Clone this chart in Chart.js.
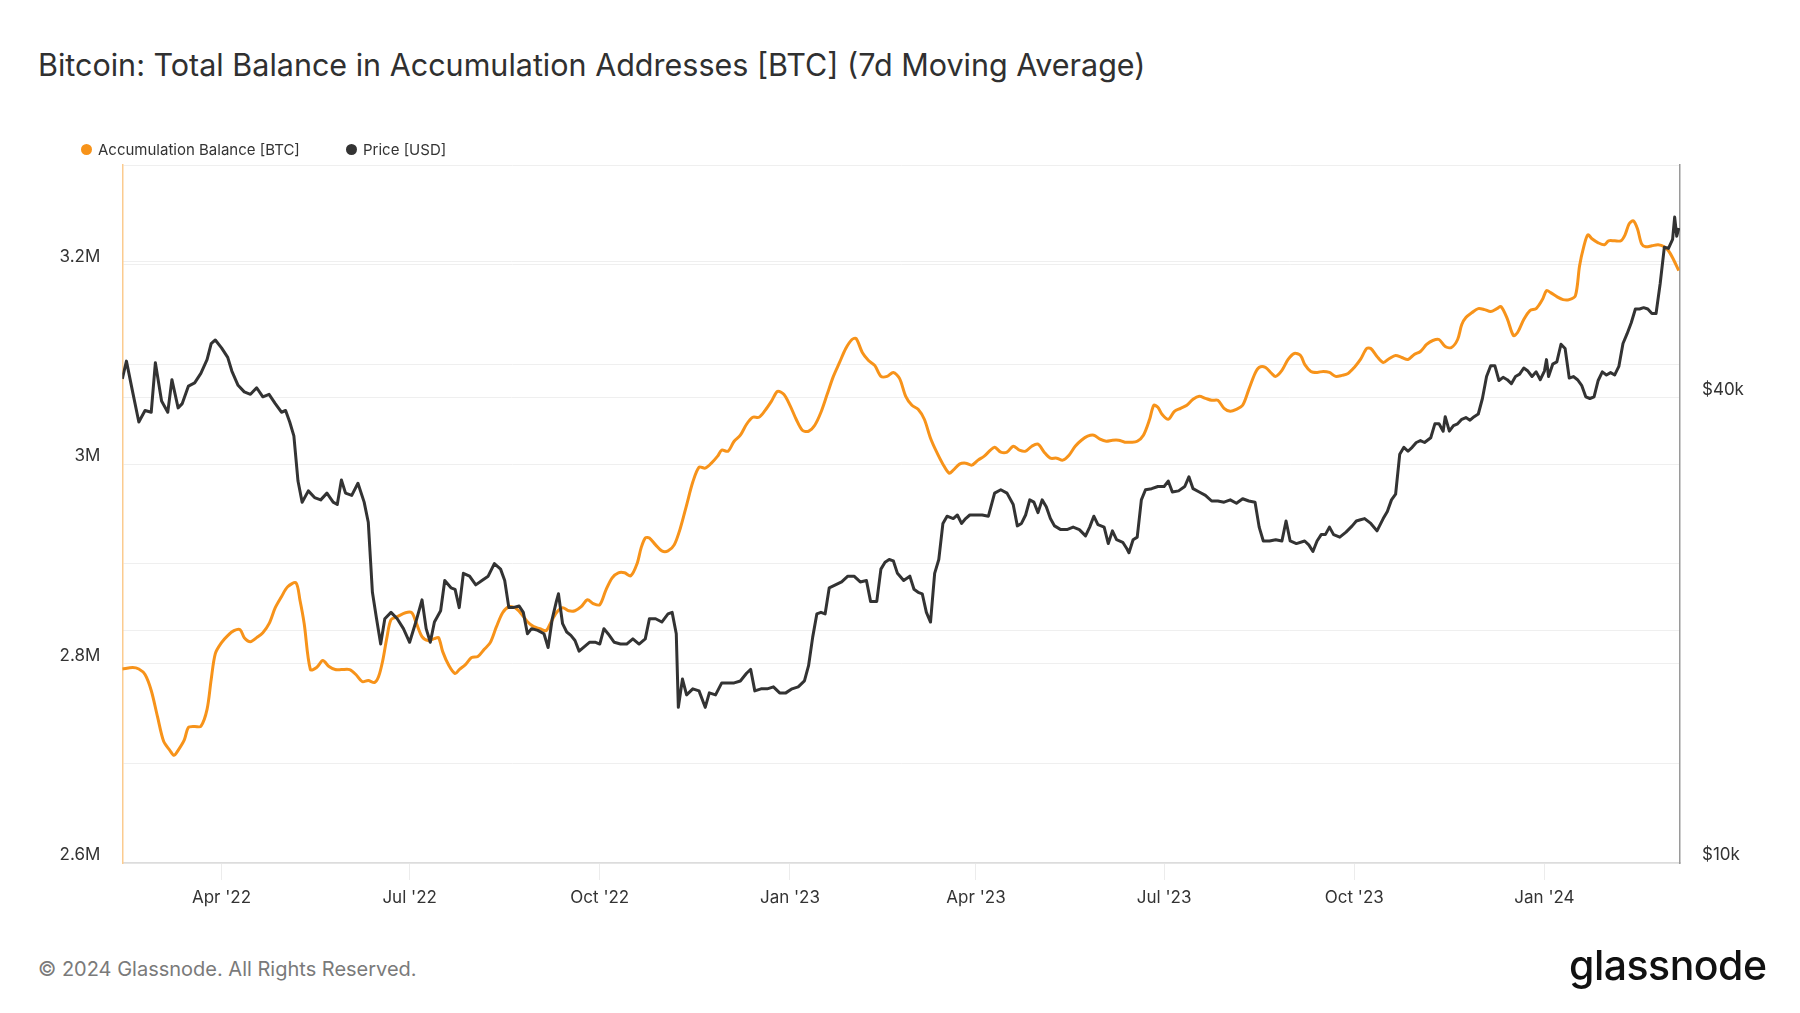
<!DOCTYPE html>
<html>
<head>
<meta charset="utf-8">
<title>Bitcoin: Total Balance in Accumulation Addresses</title>
<script src="https://cdn.jsdelivr.net/npm/chart.js@4.4.1/dist/chart.umd.min.js"></script>
<style>
  html, body { margin: 0; padding: 0; background: #fff; }
  body { width: 1800px; height: 1013px; position: relative; overflow: hidden; font-family: Inter, "Noto Sans", sans-serif; color: #333; }
  #title { position: absolute; left: 38px; top: 46px; font-size: 30.5px; line-height: 38px; font-weight: 400; color: #303030; white-space: nowrap; }
  .dot { position: absolute; width: 11px; height: 11px; border-radius: 50%; top: 144px; z-index: 2; }
  .leg { position: absolute; top: 140px; font-size: 15px; line-height: 20px; color: #333; white-space: nowrap; z-index: 2; }
  #chartBox { position: absolute; left: 0; top: 150px; width: 1800px; height: 798px; }
  #footer { position: absolute; left: 38px; top: 957px; font-size: 20px; line-height: 24px; color: #7a7a7a; white-space: nowrap; }
  #logo { position: absolute; left: 1569px; top: 941px; font-size: 41px; line-height: 48px; font-weight: 500; letter-spacing: -0.5px; color: #111; white-space: nowrap; }
</style>
</head>
<body>
<div id="title">Bitcoin: Total Balance in Accumulation Addresses [BTC] (7d Moving Average)</div>
<span class="dot" style="left:81px;background:#f7931a"></span>
<span class="leg" style="left:98px">Accumulation Balance [BTC]</span>
<span class="dot" style="left:346px;background:#333"></span>
<span class="leg" style="left:363px">Price [USD]</span>
<div id="chartBox"><canvas id="chart"></canvas></div>
<div id="footer">© 2024 Glassnode. All Rights Reserved.</div>
<div id="logo">glassnode</div>
<script>
// x values are days since 2022-02-12
const startDate = '2022-02-12';
const endDate = '2024-03-06T14:00:00Z';

// Accumulation balance (7d MA), BTC
const balanceDays = [
  0,5,8,11,14,17,20,23,25,27,30,32,35,38,41,43,45,48,51,54,57,59,62,65,68,71,74,77,80,84,
  86,88,91,94,97,100,103,106,110,113,116,119,122,124,126,128,130,133,137,140,142,145,148,151,153,155,158,161,163,166,
  169,172,175,178,181,184,187,190,
  193,196,199,202,205,207,210,213,216,219,222,225,228,231,234,237,240,243,246,249,251,253,255,258,261,264,267,270,273,276,
  279,282,285,288,290,293,296,299,302,305,308,311,314,317,320,323,326,329,332,335,338,341,344,347,350,353,355,358,361,364,
  367,370,373,376,379,
  382,385,388,391,394,397,400,402,405,408,411,414,417,420,422,425,428,431,434,437,440,443,446,449,452,455,458,461,464,467,
  470,473,476,479,482,485,488,491,494,497,499,501,503,506,509,512,515,518,521,524,527,530,533,536,539,542,545,548,550,553,
  556,558,561,564,567,570,
  572,575,578,581,584,587,590,593,596,599,602,604,607,610,613,616,619,622,625,628,631,634,637,640,643,646,648,650,653,656,
  659,662,665,667,670,673,675,678,681,684,687,689,691,694,697,700,703,705,707,709,711,714,717,719,722,725,727,729,731,733,
  735,737,740,743,746,748,750,753
];
const balanceBtc = [
  2794500,2796000,2794500,2789000,2773000,2747000,2722000,2713000,2708000,2713000,2723500,2736000,2737000,2737000,2754000,2784000,2810000,2821000,2828000,2833000,
  2834000,2826000,2822000,2826000,2831000,2840000,2856000,2867000,2877000,2881000,2863000,2840000,2794000,2796000,2803000,2797000,2794000,2794000,2794000,2789000,
  2782000,2783000,2781000,2787000,2803000,2826000,2844000,2847000,2851000,2851000,2842000,2827000,2823000,2825000,2826000,2812000,2798000,2790000,2794000,2799000,
  2806000,2807000,2814000,2821000,2837000,2851000,2857000,2856000,
  2850000,2842000,2837000,2835000,2833000,2840000,2851000,2856000,2853000,2853000,2857000,2864000,2860000,2859000,2874000,2886000,2891000,2891000,2888000,2900000,
  2916000,2926000,2926000,2919000,2913000,2913000,2919000,2936000,2959000,2982000,2997000,2996000,3001000,3008000,3014000,3013000,3023000,3029000,3040000,3047000,
  3047000,3054000,3063000,3073000,3070000,3059000,3045000,3034000,3033000,3039000,3052000,3070000,3088000,3102000,3116000,3125000,3126000,3112000,3104000,3099000,
  3088000,3088000,3092000,3086000,3068000,
  3059000,3055000,3045000,3026000,3012000,3000000,2991000,2994000,3000000,3001000,2999000,3004000,3008000,3014000,3017000,3012000,3012000,3018000,3014000,3013000,
  3018000,3020000,3012000,3006000,3006000,3004000,3009000,3018000,3024000,3028000,3029000,3025000,3023000,3024000,3024000,3022000,3022000,3023000,3029000,3045000,
  3059000,3057000,3050000,3045000,3053000,3056000,3059000,3065000,3068000,3066000,3064000,3064000,3056000,3053000,3055000,3059000,3075000,3091000,3097000,3097000,
  3091000,3088000,3094000,3105000,3111000,3109000,
  3100000,3093000,3092000,3093000,3092000,3088000,3089000,3091000,3097000,3105000,3116000,3116000,3108000,3102000,3106000,3109000,3107000,3105000,3110000,3113000,
  3120000,3124000,3125000,3118000,3117000,3125000,3140000,3147000,3152000,3156000,3155000,3153000,3156000,3158000,3146000,3129000,3132000,3145000,3154000,3156000,
  3165000,3174000,3172000,3168000,3165000,3165000,3169000,3199000,3218000,3230000,3226000,3222000,3220000,3224000,3224000,3224000,3230000,3241000,3244000,3236000,
  3221000,3218000,3219000,3220000,3218000,3214000,3207000,3194000
];

// BTC price, USD
const priceDays = [
  0,2,5,8,11,14,16,19,22,24,27,29,32,35,38,41,43,45,48,51,53,56,59,62,65,68,71,74,77,79,
  81,83,85,87,90,93,96,99,102,104,106,108,111,114,117,119,121,123,125,127,130,133,136,139,142,145,147,149,151,154,
  156,159,161,163,165,168,171,174,177,180,183,
  185,187,189,192,194,196,198,201,204,206,208,210,211,213,215,217,219,221,223,226,229,231,233,235,238,241,244,247,250,253,
  255,258,261,264,266,268,269,271,273,276,279,282,284,287,290,293,296,299,302,304,306,309,312,315,318,321,324,327,330,332,
  334,336,338,340,342,345,348,351,354,357,360,362,365,367,369,371,373,375,378,
  381,383,385,387,389,391,393,395,397,399,402,404,406,408,410,413,416,419,422,425,428,431,433,435,437,439,441,443,445,447,
  449,451,454,457,460,463,466,468,470,472,475,477,479,481,484,486,487,489,491,493,495,498,501,504,506,508,511,514,516,518,
  521,524,527,530,533,536,539,542,545,548,550,552,555,558,561,563,565,568,
  572,574,576,578,580,582,584,586,589,592,595,597,599,601,604,607,610,612,614,616,618,620,622,624,626,628,630,633,635,637,
  639,640,642,644,646,648,650,652,654,656,658,660,662,664,666,668,670,672,674,676,678,680,682,684,686,688,689,690,692,694,
  696,698,700,702,704,706,708,710,712,714,716,718,720,722,724,726,728,730,732,734,736,738,740,742,744,746,748,750,751,752,
  753
];
const priceUsd = [
  42300,44600,40700,37200,38500,38300,44400,39600,38300,42200,38800,39300,41400,41800,43000,44800,47000,47500,46400,45100,
  43300,41500,40700,40400,41200,40100,40400,39300,38300,38500,37200,35700,31200,29300,30300,29700,29500,30100,29300,29100,
  31300,30100,29900,31000,29300,27600,22400,20700,19200,20700,21100,20700,20100,19300,20500,21900,20100,19300,20500,21200,
  23200,22700,22600,21400,23700,23500,22900,23200,23500,24400,24000,
  23200,21400,21400,21500,21100,19800,20100,20000,19800,19000,20700,21800,22300,20400,19900,19700,19400,18800,19000,19300,
  19300,19200,20100,19800,19300,19200,19200,19500,19200,19500,20700,20700,20500,21000,21100,19800,15900,17300,16500,16800,
  16700,15900,16600,16500,17100,17100,17100,17200,17600,17800,16700,16800,16800,16900,16600,16600,16800,16900,17200,18000,
  19600,21000,21100,21000,22700,22900,23100,23500,23500,23100,23200,21800,21800,24000,24500,24700,24600,23700,23200,
  23500,22600,22400,22300,21100,20500,23700,24700,27500,28100,27900,28200,27500,27900,28200,28200,28200,28100,30100,30400,
  30100,29100,27300,27500,28200,29500,29300,28400,29500,28900,27900,27300,27000,27000,27200,27000,26500,27200,28100,27400,
  27200,25900,26900,26200,26000,25500,25200,26200,26400,29500,30400,30500,30700,30700,31200,30200,30300,30700,31600,30500,
  30200,29900,29400,29400,29300,29500,29200,29600,29400,29300,27200,26100,26100,26200,26100,27700,26100,25900,
  26100,25800,25300,26100,26600,26600,27200,26600,26400,26800,27300,27700,27800,27900,27500,26900,27900,28500,29500,30000,
  33800,34500,34100,34500,35000,35200,35000,35500,37000,37000,36200,37800,36200,36800,37000,37500,37700,37400,37800,38100,
  39900,42600,44000,44000,42100,42500,42200,41700,42600,42900,43700,43300,42600,43200,42200,43300,44800,42600,44200,44500,
  46900,46300,42400,42600,42200,41500,40100,39900,40100,42100,43200,42800,43100,42800,43900,47000,48400,50000,52100,52100,
  52300,52100,51400,51400,56200,62600,62400,64100,68500,64700,66300
];

// axis ticks
const quarterDates = ['2022-04-01','2022-07-01','2022-10-01','2023-01-01','2023-04-01','2023-07-01','2023-10-01','2024-01-01'];
const quarterLabels = ["Apr '22","Jul '22","Oct '22","Jan '23","Apr '23","Jul '23","Oct '23","Jan '24"];
const balanceTicks = [2600000,2700000,2800000,2900000,3000000,3100000,3200000,3300000];
const balanceTickLabels = ['2.6M','','2.8M','','3M','','3.2M',''];
const priceTicks = [10000,20000,40000,60000];
const priceTickLabels = ['$10k','','$40k',''];

const DAY = 86400000;
const t0 = Date.parse(startDate);
const toPoints = (days, vals) => days.map((d, i) => ({ x: t0 + d * DAY, y: vals[i] }));

Chart.defaults.font.family = 'Inter, "Noto Sans", sans-serif';
Chart.defaults.color = '#333';

const tickFont = { family: 'Inter, "Noto Sans", sans-serif', size: 17 };
const gridColor = '#efefef';

// keep the plot area exactly where the reference has it
const noPad = s => { s.paddingTop = 0; s.paddingBottom = 0; s.paddingLeft = 0; s.paddingRight = 0; };

new Chart(document.getElementById('chart'), {
  type: 'line',
  data: {
    datasets: [
      {
        label: 'Price [USD]',
        data: toPoints(priceDays, priceUsd),
        yAxisID: 'yPrice',
        borderColor: '#333333',
        borderWidth: 3,
        pointRadius: 0,
        tension: 0,
        borderJoinStyle: 'round'
      },
      {
        label: 'Accumulation Balance [BTC]',
        data: toPoints(balanceDays, balanceBtc),
        yAxisID: 'yBal',
        borderColor: '#f7931a',
        borderWidth: 3,
        pointRadius: 0,
        tension: 0.3,
        borderJoinStyle: 'round'
      }
    ]
  },
  options: {
    responsive: true,
    maintainAspectRatio: false,
    animation: false,
    layout: { padding: { top: 15, left: 0, right: 0, bottom: 0 } },
    plugins: { legend: { display: false }, tooltip: { enabled: false } },
    scales: {
      x: {
        type: 'linear',
        min: t0,
        max: Date.parse(endDate),
        afterBuildTicks: s => { s.ticks = quarterDates.map(q => ({ value: Date.parse(q) })); },
        afterFit: s => { s.height = 85; noPad(s); },
        grid: { drawOnChartArea: false, drawTicks: true, tickLength: 17, tickColor: '#ececec', color: '#ececec' },
        border: { color: '#dcdcdc', width: 1.5 },
        ticks: {
          autoSkip: false, maxRotation: 0, padding: 8, font: tickFont, color: '#333',
          callback: (v, i) => quarterLabels[i]
        }
      },
      yBal: {
        position: 'left',
        min: balanceTicks[0],
        max: balanceTicks[balanceTicks.length - 1],
        afterBuildTicks: s => { s.ticks = balanceTicks.map(v => ({ value: v })); },
        afterFit: s => { s.width = 122.3; noPad(s); },
        grid: { color: gridColor, drawTicks: false },
        border: { color: '#fbcb8f', width: 1.5 },
        ticks: { padding: 22, labelOffset: -8, font: tickFont, color: '#333', callback: (v, i) => balanceTickLabels[i] }
      },
      yPrice: {
        type: 'logarithmic',
        position: 'right',
        min: priceTicks[0],
        max: 80000,
        afterBuildTicks: s => { s.ticks = priceTicks.map(v => ({ value: v })); },
        afterFit: s => { s.width = 120; noPad(s); },
        grid: { color: gridColor, drawTicks: false },
        border: { color: '#9a9a9a', width: 1.5 },
        ticks: { padding: 22, labelOffset: -8, font: tickFont, color: '#333', callback: (v, i) => priceTickLabels[i] }
      }
    }
  }
});
</script>
</body>
</html>
